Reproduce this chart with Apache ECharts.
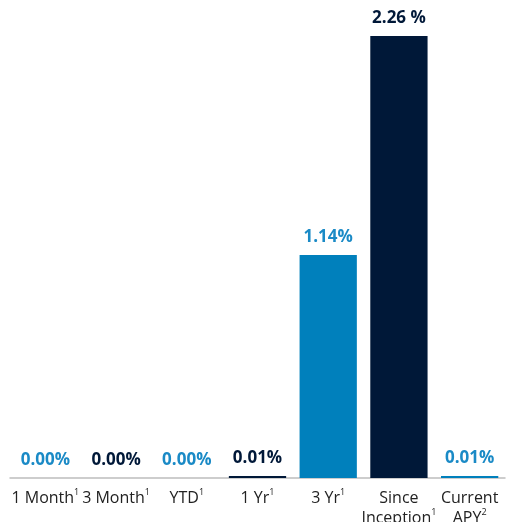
<!DOCTYPE html>
<html><head><meta charset="utf-8">
<script src="https://cdn.jsdelivr.net/npm/echarts@6/dist/echarts.min.js"></script>
<style>html,body{margin:0;padding:0;background:#fff}#c{width:515px;height:522px}</style>
</head><body><div id="c"></div>
<script>
const categories = ['1 Month', '3 Month', 'YTD', '1 Yr', '3 Yr', 'Since\nInception', 'Current\nAPY'];
const superscripts = ['1', '1', '1', '1', '1', '1', '2'];
const values = [0.00, 0.00, 0.00, 0.01, 1.14, 2.26, 0.01];
const valueLabels = ['0.00%', '0.00%', '0.00%', '0.01%', '1.14%', '2.26 %', '0.01%'];
const BLUE = '#0080BC', NAVY = '#001838';
const barColors = [BLUE, NAVY, BLUE, NAVY, BLUE, NAVY, BLUE];
const labelColors = ['#1a8ac6', NAVY, '#1a8ac6', NAVY, '#1a8ac6', NAVY, '#1a8ac6'];
const FONT = '"Open Sans", "Noto Sans", sans-serif';

const chart = echarts.init(document.getElementById('c'));
chart.setOption({
  animation: false,
  grid: { left: 10, right: 10, top: 36, bottom: 44, containLabel: false, outerBoundsMode: 'none' },
  xAxis: {
    type: 'category',
    data: categories,
    axisLine: { show: true, lineStyle: { color: '#bdbdbd', width: 1.5 } },
    axisTick: { show: false },
    axisLabel: {
      interval: 0,
      margin: 10,
      color: '#222',
      fontFamily: FONT,
      fontSize: 16,
      lineHeight: 20,
      formatter: function (v, i) {
        const lines = v.split('\n');
        lines[lines.length - 1] += '{s|' + superscripts[i] + '}';
        return lines.join('\n');
      },
      rich: { s: { fontSize: 9, verticalAlign: 'top', lineHeight: 20, color: '#222', fontFamily: FONT, padding: [0, 0, 6, 0] } }
    }
  },
  yAxis: { type: 'value', min: 0, max: 2.26, show: false, splitLine: { show: false } },
  series: [{
    type: 'bar',
    barCategoryGap: '19%',
    data: values.map((v, i) => ({
      value: v,
      itemStyle: { color: barColors[i] },
      label: { color: labelColors[i] }
    })),
    label: {
      show: true,
      position: 'top',
      distance: 9,
      fontFamily: FONT,
      fontWeight: 'bold',
      fontSize: 17,
      formatter: p => valueLabels[p.dataIndex]
    }
  }]
});
</script></body></html>
